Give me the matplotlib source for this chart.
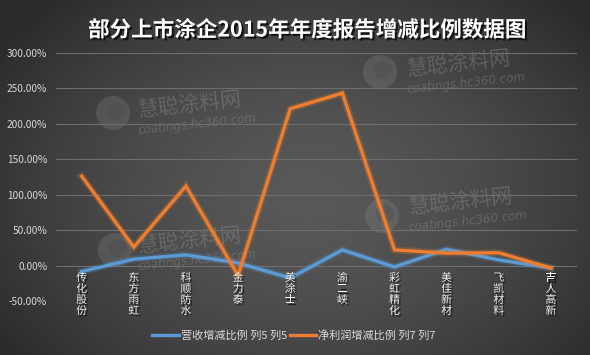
import numpy as np
import matplotlib
matplotlib.use('Agg')
import matplotlib.pyplot as plt
import matplotlib.patheffects as pe
from matplotlib.transforms import offset_copy
from matplotlib.lines import Line2D
from matplotlib.patches import Circle

plt.rcParams['font.family'] = ['Noto Sans CJK SC', 'DejaVu Sans']

title = '部分上市涂企2015年年度报告增减比例数据图'
categories = ['传化股份', '东方雨虹', '科顺防水', '金力泰', '美涂士',
              '渝三峡', '彩虹精化', '美佳新材', '飞凯材料', '吉人高新']
revenue = [-8.5, 9, 15, 3.5, -17.5, 22, -2, 23, 8, -3.5]      # 营收增减比例 (%)
profit = [126, 26, 112, -14, 221, 243, 22, 17.5, 18, -3.5]     # 净利润增减比例 (%)
series_names = ['营收增减比例 列5 列5', '净利润增减比例 列7 列7']
yticks = [-50, 0, 50, 100, 150, 200, 250, 300]
colors = ['#5B9BD5', '#ED7D31']

W, H = 590, 355
fig = plt.figure(figsize=(W / 100, H / 100), dpi=100)

# background radial gradient
yy, xx = np.mgrid[0:H, 0:W]
cx, cy = W * 0.52, H * 0.45
r = np.sqrt(((xx - cx) / (W * 0.62)) ** 2 + ((yy - cy) / (H * 0.75)) ** 2)
r = np.clip(r, 0, 1)
v = (0x58 - (0x58 - 0x2c) * r ** 1.6) / 255.0
bg = np.dstack([v, v, v])
fig.figimage(bg, xo=0, yo=0, zorder=-10, origin='lower')

# watermarks
def watermark(x_logo, y_logo, x_txt, y_txt):
    fig.patches.append(Circle((x_logo / 100, (H - y_logo) / 100), 0.17,
                              transform=fig.dpi_scale_trans, facecolor='#9a9a9a',
                              alpha=0.22, edgecolor='none', zorder=-5))
    fig.patches.append(Circle((x_logo / 100 + 0.03, (H - y_logo) / 100 + 0.02), 0.09,
                              transform=fig.dpi_scale_trans, facecolor='#4a4a4a',
                              alpha=0.35, edgecolor='none', zorder=-5))
    fig.text(x_txt / W, 1 - y_txt / H, '慧聪涂料网', fontsize=15, color='#a0a0a0',
             alpha=0.33, rotation=6, ha='left', va='center', zorder=-4)
    fig.text(x_txt / W, 1 - (y_txt + 19) / H, 'coatings.hc360.com', fontsize=8.5,
             color='#a0a0a0', alpha=0.33, rotation=6, ha='left', va='center',
             style='italic', family='DejaVu Sans', zorder=-4)

watermark(380, 72, 406, 64)
watermark(113, 113, 137, 105)
watermark(115, 250, 137, 241)
watermark(382, 216, 408, 202)

# main axes
x0, x1 = 55.6, 577
ytop, ybot = 52.7, 301
ax = fig.add_axes([x0 / W, 1 - ybot / H, (x1 - x0) / W, (ybot - ytop) / H])
ax.set_facecolor('none')
ax.set_xlim(-0.5, len(categories) - 0.5)
ax.set_ylim(-50, 300)
for s in ax.spines.values():
    s.set_visible(False)
ax.set_yticks(yticks)
ax.set_yticklabels([f'{t:.2f}%' for t in yticks], color='#d9d9d9', fontsize=7.3)
ax.tick_params(axis='y', length=0, pad=6)
ax.set_xticks([])
ax.grid(axis='y', color='#6e6e6e', linewidth=0.8)
ax.set_axisbelow(True)

x = np.arange(len(categories))
for vals, c in zip([revenue, profit], colors):
    ax.plot(x, vals, color=c, linewidth=2.4, solid_joinstyle='miter', zorder=3,
            path_effects=[pe.Stroke(linewidth=5, foreground=c, alpha=0.22), pe.Normal()])

# vertical category labels
for i, cat in enumerate(categories):
    for j, ch in enumerate(cat):
        tr = offset_copy(ax.transData, fig=fig, x=0, y=-(12.5 + 11 * j), units='dots')
        ax.text(i, 0, ch, transform=tr, ha='center', va='center', fontsize=7.8,
                color='#f0f0f0', zorder=5,
                path_effects=[pe.SimplePatchShadow(offset=(1.2, -1.2), shadow_rgbFace='black', alpha=0.6),
                              pe.Normal()])

# title
fig.text(307 / W, 1 - 30 / H, title, fontsize=15.5, fontweight='bold', color='white',
         ha='center', va='center',
         path_effects=[pe.SimplePatchShadow(offset=(1.5, -1.5), shadow_rgbFace='black', alpha=0.7),
                       pe.Normal()])

# legend
handles = [Line2D([], [], color=c, linewidth=2.4) for c in colors]
leg = fig.legend(handles, series_names, loc='center', bbox_to_anchor=(294 / W, 1 - 335 / H),
                 ncol=2, frameon=False, fontsize=8, handlelength=2.4, handletextpad=0.2,
                 columnspacing=0.2, labelcolor='#d9d9d9')

fig.savefig('out.png', dpi=100)
